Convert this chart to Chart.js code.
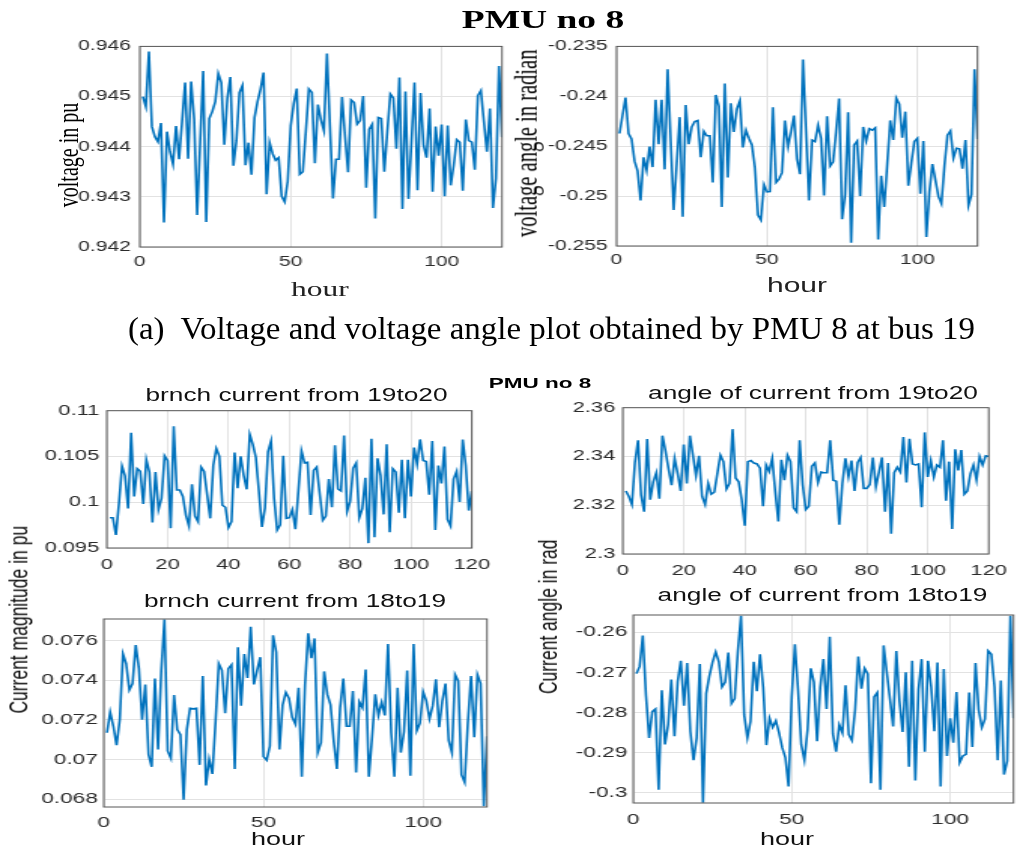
<!DOCTYPE html>
<html>
<head>
<meta charset="utf-8">
<title>PMU no 8</title>
<script src="https://cdn.jsdelivr.net/npm/chart.js@4.4.0/dist/chart.umd.min.js"></script>
<style>
  html, body { margin: 0; padding: 0; background: #fff; }
  body { width: 1021px; height: 848px; position: relative; overflow: hidden; }
  /* the figure is laid out narrow and widened as a whole */
  #stage { position: absolute; left: 0; top: 0; width: 681px; height: 848px; transform: scaleX(1.5); transform-origin: 0 0; }
  .panel { position: absolute; }
  .lbl { position: absolute; white-space: nowrap; text-align: center; line-height: 1; color: #111; }
  #caption { position: absolute; left: 128px; top: 313px; white-space: nowrap; line-height: 1;
             font-family: "Liberation Serif", serif; font-size: 31px; color: #000; transform-origin: 0 0; }
</style>
</head>
<body>
<div id="stage"></div>
<div id="caption">(a)&nbsp; Voltage and voltage angle plot obtained by PMU 8 at bus 19</div>
<script>
(() => {
  'use strict'

  const SX = 1.5

  // x ticks (hour)
  const hourTicksWide = [0, 50, 100]
  const hourTicksFine = [0, 20, 40, 60, 80, 100, 120]

  // bus 19 voltage magnitude (pu), hours 1..120
  const voltagePu = [
    0.9450, 0.9448, 0.9459, 0.9444, 0.9442, 0.9441, 0.94447, 0.94249, 0.9443, 0.9439,
    0.94365, 0.94441, 0.94375, 0.9445, 0.94528, 0.94376, 0.9453, 0.94455, 0.94264, 0.9441,
    0.94551, 0.9425, 0.94456, 0.9447, 0.9449, 0.94546, 0.94528, 0.94404, 0.94497, 0.94539,
    0.94362, 0.94412, 0.94508, 0.94522, 0.94363, 0.94408, 0.94344, 0.94458, 0.9449, 0.94515,
    0.94548, 0.94305, 0.94408, 0.94386, 0.94373, 0.94378, 0.94301, 0.9429, 0.94331, 0.94442,
    0.94486, 0.94516, 0.94345, 0.9435, 0.9443, 0.94515, 0.94508, 0.94367, 0.94484, 0.94454,
    0.94432, 0.94586, 0.9444, 0.94297, 0.94375, 0.94375, 0.94499, 0.9442, 0.94349, 0.94493,
    0.94488, 0.94445, 0.94452, 0.94501, 0.94318, 0.94435, 0.94445, 0.94257, 0.94458, 0.94456,
    0.9435, 0.9443, 0.94505, 0.94497, 0.94396, 0.94538, 0.94276, 0.9451, 0.94296, 0.9441,
    0.94528, 0.94313, 0.94507, 0.94403, 0.94378, 0.94476, 0.9431, 0.9444, 0.94382, 0.94444,
    0.94301, 0.94442, 0.94323, 0.94363, 0.94414, 0.94409, 0.94312, 0.94454, 0.94412, 0.94409,
    0.94354, 0.94502, 0.94512, 0.9445, 0.9439, 0.94476, 0.94278, 0.94337, 0.94561, 0.94419
  ]

  // bus 19 voltage angle (rad)
  const voltageAngle = [
    -0.24373, -0.2419, -0.24013, -0.24373, -0.24428, -0.2465, -0.24748, -0.25043, -0.24611, -0.24742,
    -0.24503, -0.24709, -0.24036, -0.2448, -0.24036, -0.24732, -0.23729, -0.2445, -0.2514, -0.2467,
    -0.24209, -0.25206, -0.24088, -0.2448, -0.24307, -0.24252, -0.24242, -0.24611, -0.2435, -0.24395,
    -0.24395, -0.24863, -0.23987, -0.24101, -0.25108, -0.23873, -0.24814, -0.24069, -0.24356, -0.24127,
    -0.24046, -0.24513, -0.2434, -0.2442, -0.24487, -0.24716, -0.2519, -0.25239, -0.24886, -0.24958,
    -0.24954, -0.24111, -0.24863, -0.2483, -0.24765, -0.24242, -0.24503, -0.24356, -0.24193, -0.2463,
    -0.24781, -0.23631, -0.2434, -0.25043, -0.24438, -0.24454, -0.24291, -0.24422, -0.24994, -0.24199,
    -0.24699, -0.24657, -0.24356, -0.24023, -0.25232, -0.24984, -0.2416, -0.25467, -0.24487, -0.24448,
    -0.2500, -0.24307, -0.24448, -0.24324, -0.2434, -0.24317, -0.25435, -0.24797, -0.25108, -0.2468,
    -0.24242, -0.24438, -0.2402, -0.24078, -0.24415, -0.24154, -0.24895, -0.2467, -0.24454, -0.24422,
    -0.24977, -0.24448, -0.25409, -0.24961, -0.2468, -0.2484, -0.25003, -0.25075, -0.24699, -0.24389,
    -0.24346, -0.24618, -0.2452, -0.24526, -0.24725, -0.24438, -0.25092, -0.24984, -0.23729, -0.24428
  ]

  // branch 19-20 current magnitude (pu)
  const current1920 = [
    0.09831, 0.09831, 0.09642, 0.0999, 0.10394, 0.10287, 0.09931, 0.10758, 0.10063, 0.10366,
    0.10337, 0.09981, 0.10465, 0.1033, 0.09778, 0.1033, 0.0992, 0.10045, 0.10508, 0.10455,
    0.09717, 0.10829, 0.10134, 0.10134, 0.10063, 0.0986, 0.09742, 0.10195, 0.09849, 0.09789,
    0.10384, 0.10337, 0.1008, 0.09824, 0.10401, 0.10587, 0.10501, 0.09967, 0.09945, 0.09724,
    0.09789, 0.10544, 0.10152, 0.10501, 0.10294, 0.10141, 0.1074, 0.10633, 0.1049, 0.1012,
    0.09731, 0.09938, 0.10551, 0.10669, 0.10045, 0.09696, 0.09753, 0.10508, 0.09824, 0.09831,
    0.0992, 0.09706, 0.1013, 0.10562, 0.1043, 0.10437, 0.0986, 0.10348, 0.10384, 0.1009,
    0.09803, 0.09849, 0.10252, 0.09945, 0.10622, 0.10145, 0.10123, 0.10729, 0.09902, 0.10009,
    0.10373, 0.1043, 0.09831, 0.09931, 0.10266, 0.09553, 0.10693, 0.09617, 0.1048, 0.10294,
    0.09867, 0.10633, 0.09671, 0.10366, 0.1033, 0.09885, 0.10465, 0.09824, 0.10465, 0.10063,
    0.10597, 0.10419, 0.10686, 0.10455, 0.10444, 0.10081, 0.10669, 0.09696, 0.10401, 0.10205,
    0.10608, 0.09813, 0.09742, 0.10252, 0.10337, 0.10002, 0.10686, 0.10401, 0.09909, 0.10123
  ]

  // branch 19-20 current angle (rad)
  const angle1920 = [
    2.32587, 2.3236, 2.32027, 2.3376, 2.34667, 2.32427, 2.31733, 2.3472, 2.32227, 2.3296,
    2.33333, 2.32267, 2.34853, 2.34227, 2.33493, 2.32827, 2.3392, 2.33293, 2.32587, 2.34493,
    2.32893, 2.34853, 2.34053, 2.33227, 2.34027, 2.3236, 2.32027, 2.32893, 2.32453, 2.32533,
    2.33293, 2.34053, 2.33787, 2.32667, 2.32893, 2.3512, 2.3312, 2.3296, 2.32227, 2.3116,
    2.33787, 2.3383, 2.33733, 2.33693, 2.3352, 2.3196, 2.33653, 2.33387, 2.3392, 2.3256,
    2.31333, 2.33867, 2.33027, 2.34053, 2.33787, 2.31893, 2.31733, 2.34667, 2.32827, 2.31827,
    2.3196, 2.336, 2.33733, 2.32933, 2.3336, 2.33333, 2.33333, 2.34667, 2.33027, 2.32987,
    2.312, 2.32893, 2.3392, 2.3316, 2.3383, 2.32587, 2.3376, 2.3396, 2.32693, 2.32693,
    2.32853, 2.3396, 2.3276, 2.3336, 2.3396, 2.31733, 2.33733, 2.30827, 2.33333, 2.3356,
    2.3336, 2.348, 2.32933, 2.3472, 2.33693, 2.33653, 2.33693, 2.3192, 2.34987, 2.3316,
    2.3383, 2.3316, 2.33653, 2.3356, 2.34667, 2.32187, 2.33787, 2.31027, 2.34293, 2.33427,
    2.34267, 2.32453, 2.32587, 2.33293, 2.33653, 2.33027, 2.34, 2.33653, 2.34027, 2.34
  ]

  // branch 18-19 current magnitude (pu)
  const current1819 = [
    0.07135, 0.07239, 0.07168, 0.07073, 0.07201, 0.07533, 0.07484, 0.07351, 0.07384, 0.07578,
    0.07459, 0.07201, 0.07379, 0.07026, 0.06963, 0.07409, 0.07051, 0.0745, 0.07708, 0.07043,
    0.07006, 0.07326, 0.07151, 0.07126, 0.06797, 0.07151, 0.07259, 0.07256, 0.07259, 0.06973,
    0.07422, 0.06869, 0.07001, 0.06927, 0.07193, 0.07484, 0.0745, 0.07234, 0.07459, 0.07479,
    0.06952, 0.07567, 0.07272, 0.07533, 0.07412, 0.07671, 0.07379, 0.0745, 0.07517, 0.07015,
    0.06997, 0.07068, 0.07628, 0.07542, 0.07051, 0.07276, 0.07339, 0.07309, 0.07213, 0.07179,
    0.07362, 0.06913, 0.07376, 0.07638, 0.07512, 0.07612, 0.07035, 0.07085, 0.07445, 0.07329,
    0.07276, 0.07093, 0.06952, 0.07262, 0.07409, 0.07168, 0.07168, 0.07346, 0.06935, 0.07292,
    0.07262, 0.07455, 0.06913, 0.0711, 0.07329, 0.07223, 0.07289, 0.07223, 0.07583, 0.07135,
    0.06913, 0.07362, 0.07035, 0.0714, 0.0745, 0.06918, 0.07583, 0.07146, 0.07184, 0.07342,
    0.07296, 0.07206, 0.07272, 0.07405, 0.07163, 0.07296, 0.07384, 0.07096, 0.07035, 0.07429,
    0.07396, 0.06923, 0.06885, 0.07184, 0.07422, 0.07113, 0.07429, 0.07384, 0.06764, 0.07118
  ]

  // branch 18-19 current angle (rad)
  const angle1819 = [
    -0.2703, -0.26849, -0.26082, -0.27567, -0.28629, -0.27976, -0.2791, -0.29918, -0.27445, -0.28792,
    -0.28302, -0.27176, -0.28588, -0.27224, -0.2671, -0.27829, -0.26767, -0.28465, -0.29184, -0.28629,
    -0.26792, -0.30245, -0.27527, -0.27094, -0.26751, -0.2649, -0.26735, -0.27363, -0.27241, -0.26506,
    -0.27771, -0.27649, -0.26465, -0.25592, -0.28057, -0.28629, -0.2822, -0.26735, -0.27469, -0.26547,
    -0.27363, -0.28808, -0.28139, -0.28367, -0.28204, -0.28506, -0.28873, -0.29118, -0.29837, -0.27608,
    -0.26302, -0.27445, -0.28792, -0.29184, -0.28424, -0.26898, -0.27241, -0.2871, -0.27363, -0.26669,
    -0.2791, -0.26114, -0.28531, -0.28971, -0.28302, -0.28506, -0.27322, -0.28547, -0.28694, -0.27935,
    -0.26604, -0.27404, -0.26898, -0.27037, -0.29755, -0.27608, -0.27502, -0.29918, -0.26327, -0.26996,
    -0.27665, -0.28343, -0.26465, -0.27714, -0.28482, -0.26996, -0.29347, -0.2671, -0.2969, -0.2742,
    -0.26669, -0.28971, -0.2671, -0.27363, -0.28465, -0.26751, -0.29837, -0.26914, -0.29078, -0.28139,
    -0.28751, -0.27486, -0.29241, -0.29078, -0.29037, -0.27502, -0.28857, -0.26767, -0.27935, -0.28367,
    -0.28155, -0.26465, -0.26547, -0.27363, -0.29184, -0.272, -0.29543, -0.292, -0.25592, -0.28139
  ]

  // y tick labels
  const voltageTicks = ['0.942', '0.943', '0.944', '0.945', '0.946']
  const voltageAngleTicks = ['-0.255', '-0.25', '-0.245', '-0.24', '-0.235']
  const current1920Ticks = ['0.095', '0.1', '0.105', '0.11']
  const angle1920Ticks = ['2.3', '2.32', '2.34', '2.36']
  const current1819Ticks = ['0.068', '0.07', '0.072', '0.074', '0.076']
  const angle1819Ticks = ['-0.3', '-0.29', '-0.28', '-0.27', '-0.26']

  const stage = document.getElementById('stage')
  const AXIS_W = 60
  const AXIS_H = 40
  const PAD = 10

  Chart.defaults.font.family = '"Liberation Sans", Arial, sans-serif'

  // closed box round the plot area, like a MATLAB axes
  const frame = {
    id: 'frame',
    afterDatasetsDraw(chart) {
      const { ctx, chartArea: a } = chart
      ctx.save()
      ctx.strokeStyle = '#575757'
      ctx.lineWidth = 1
      ctx.strokeRect(a.left, a.top, a.right - a.left, a.bottom - a.top)
      ctx.restore()
    }
  }

  // box = plot area in page pixels
  function panel(p) {
    const left = p.box.l / SX - AXIS_W
    const width = (p.box.r - p.box.l) / SX + AXIS_W + PAD
    const div = document.createElement('div')
    div.className = 'panel'
    div.style.left = left + 'px'
    div.style.top = (p.box.t - PAD) + 'px'
    div.style.width = width + 'px'
    div.style.height = (p.box.b - p.box.t + PAD + AXIS_H) + 'px'
    const canvas = document.createElement('canvas')
    div.appendChild(canvas)
    stage.appendChild(div)

    const points = p.values.map((v, i) => ({ x: i + 1, y: v }))

    new Chart(canvas, {
      type: 'line',
      data: {
        datasets: [{
          data: points,
          borderColor: '#0072BD',
          borderWidth: 1.6,
          pointRadius: 0,
          tension: 0,
          fill: false
        }]
      },
      options: {
        responsive: true,
        maintainAspectRatio: false,
        animation: false,
        events: [],
        layout: { padding: { top: PAD, right: PAD, left: 0, bottom: 0 }, autoPadding: false },
        plugins: { legend: { display: false }, tooltip: { enabled: false } },
        scales: {
          x: {
            type: 'linear',
            min: 0,
            max: 120,
            afterBuildTicks: s => { s.ticks = p.xTicks.map(v => ({ value: v })) },
            afterFit: s => { s.height = AXIS_H },
            grid: { color: '#e2e2e2', drawTicks: false },
            border: { display: false },
            ticks: {
              color: '#2b2b2b',
              font: { size: p.font },
              padding: p.xPad,
              maxRotation: 0,
              autoSkip: false,
              callback: v => String(v)
            }
          },
          y: {
            type: 'linear',
            min: p.yMin,
            max: p.yMax,
            afterBuildTicks: s => { s.ticks = p.yTicks.map(t => ({ value: Number(t) })) },
            afterFit: s => { s.width = AXIS_W },
            grid: { color: '#e2e2e2', drawTicks: false },
            border: { display: false },
            ticks: {
              color: '#2b2b2b',
              font: { size: p.font },
              padding: p.yPad,
              autoSkip: false,
              callback: (v, i) => p.yTicks[i]
            }
          }
        }
      },
      plugins: [frame]
    })
  }

  // text placed by centre x and baseline (page y), stage coordinates
  function label(text, cx, base, size, family, opts = {}) {
    const el = document.createElement('div')
    el.className = 'lbl'
    el.textContent = text
    el.style.fontFamily = family
    el.style.fontSize = size + 'px'
    el.style.width = '400px'
    el.style.left = (cx - 200) + 'px'
    if (opts.weight) el.style.fontWeight = opts.weight
    if (opts.color) el.style.color = opts.color
    if (opts.rotate) {
      // base is the vertical centre for rotated text
      el.style.top = (base - size / 2) + 'px'
      el.style.height = size + 'px'
      el.style.transform = 'rotate(-90deg)'
    } else {
      const k = family.indexOf('Serif') >= 0 ? 0.8375 : 0.8465
      el.style.top = (base - k * size) + 'px'
    }
    stage.appendChild(el)
  }

  const SERIF = '"Liberation Serif", "Times New Roman", serif'
  const SANS = '"Liberation Sans", Arial, sans-serif'

  panel({ box: { l: 140, t: 42, r: 501, b: 247 }, values: voltagePu, yTicks: voltageTicks,
          yMin: 0.942, yMax: 0.946, xTicks: hourTicksWide, font: 14, xPad: 7, yPad: 6 })
  panel({ box: { l: 616, t: 42, r: 977, b: 246 }, values: voltageAngle, yTicks: voltageAngleTicks,
          yMin: -0.255, yMax: -0.235, xTicks: hourTicksWide, font: 14, xPad: 6, yPad: 6 })
  panel({ box: { l: 107, t: 407, r: 486, b: 548 }, values: current1920, yTicks: current1920Ticks,
          yMin: 0.095, yMax: 0.11, xTicks: hourTicksFine, font: 14.5, xPad: 8, yPad: 5 })
  panel({ box: { l: 623, t: 404, r: 1003, b: 554 }, values: angle1920, yTicks: angle1920Ticks,
          yMin: 2.30, yMax: 2.36, xTicks: hourTicksFine, font: 14.5, xPad: 8, yPad: 5 })
  panel({ box: { l: 104, t: 616, r: 486, b: 807 }, values: current1819, yTicks: current1819Ticks,
          yMin: 0.0676, yMax: 0.0771, xTicks: hourTicksWide, font: 15, xPad: 7, yPad: 4 })
  panel({ box: { l: 633, t: 612, r: 1012, b: 803 }, values: angle1819, yTicks: angle1819Ticks,
          yMin: -0.3025, yMax: -0.2557, xTicks: hourTicksWide, font: 15, xPad: 8, yPad: 4 })

  // upper figure text
  label('PMU no 8', 543 / SX, 28, 25, SERIF, { weight: 'bold', color: '#000' })
  label('voltage in pu', 68 / SX, 155, 20, SERIF, { rotate: true, color: '#000' })
  label('voltage angle in radian', 526 / SX, 143.5, 20.5, SERIF, { rotate: true, color: '#000' })
  label('hour', 320 / SX, 297, 21, SERIF, { color: '#222' })
  label('hour', 797 / SX, 292, 20, SANS, { color: '#222' })

  // lower figure text
  label('PMU no 8', 540 / SX, 388, 15, SANS, { weight: 'bold', color: '#000' })
  label('brnch current from 19to20', 296.5 / SX, 402, 17.5, SANS)
  label('angle of current from 19to20', 813 / SX, 400, 17.5, SANS)
  label('brnch current from 18to19', 295 / SX, 608, 17.5, SANS)
  label('angle of current from 18to19', 822.5 / SX, 602, 17.5, SANS)
  label('Current magnitude in pu', 20 / SX, 620, 17.5, SANS, { rotate: true })
  label('Current angle in rad', 548.5 / SX, 617, 17.5, SANS, { rotate: true })
  label('hour', 278 / SX, 845, 18, SANS)
  label('hour', 787 / SX, 845, 18, SANS)

  // caption spans the same width as in the figure
  const caption = document.getElementById('caption')
  caption.style.transform = 'scaleX(' + (847 / caption.offsetWidth) + ')'
})()
</script>
</body>
</html>
